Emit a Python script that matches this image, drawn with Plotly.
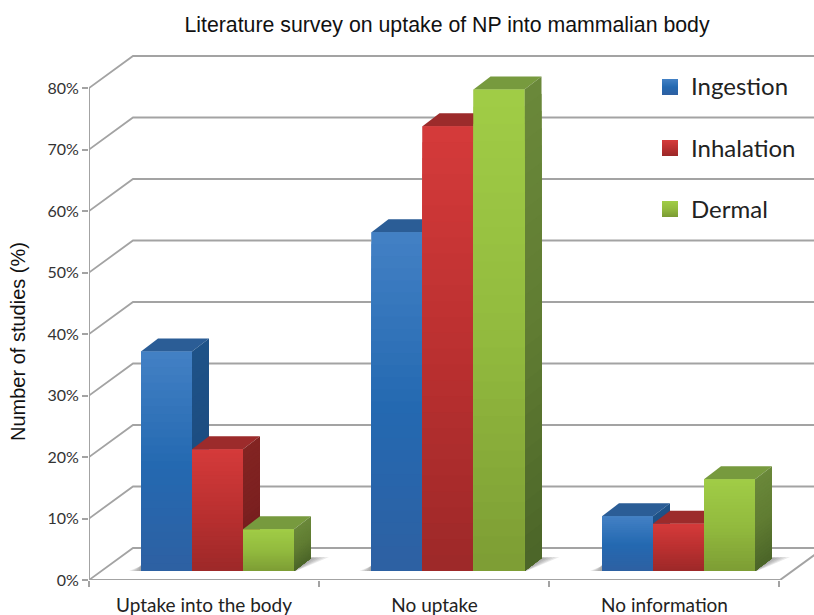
import plotly.graph_objects as go

# ---- data ----
categories = ["Uptake into the body", "No uptake", "No information"]
series_names = ["Ingestion", "Inhalation", "Dermal"]
ingestion = [35.7, 55.1, 8.9]
inhalation = [19.8, 72.3, 7.7]
dermal = [6.8, 78.3, 14.9]
y_ticks = [0, 10, 20, 30, 40, 50, 60, 70, 80]

values = [ingestion, inhalation, dermal]

# ---- styles: colours as (top, middle, bottom) of the front face ----
front = [
    [(66, 128, 196), (36, 105, 177), (46, 96, 162)],
    [(212, 58, 58), (186, 48, 48), (156, 40, 40)],
    [(160, 204, 70), (146, 186, 62), (124, 156, 52)],
]
side = [
    [(30, 82, 136), (28, 76, 128), (26, 64, 110)],
    [(130, 36, 34), (124, 32, 32), (104, 26, 26)],
    [(106, 136, 58), (96, 124, 50), (74, 100, 40)],
]
top = ["#2b5d96", "#9c2b2b", "#779a3e"]
GRID = "#a3a3a3"

W, H = 814, 615
ML, MT, MB = 89, 40, 35
PX_PER_CAT = 230.5
PX_PER_PCT = 6.15
CAT0_PX = 217.5


def to_x(px):
    return (px - CAT0_PX) / PX_PER_CAT


def to_y(py):
    return (H - MB - py) / PX_PER_PCT


BAR_W = 51 / PX_PER_CAT
FLOOR = 9 / PX_PER_PCT
DEPTH_X, DEPTH_Y = 17 / PX_PER_CAT, 13 / PX_PER_PCT
WALL_X, WALL_Y = 44 / PX_PER_CAT, 32 / PX_PER_PCT
X0 = to_x(ML)
X1 = to_x(W)
X_END = to_x(780)
N_SLICES = 28


def lerp(stops, t):
    if t < 0.5:
        a, b, u = stops[0], stops[1], t * 2
    else:
        a, b, u = stops[1], stops[2], (t - 0.5) * 2
    return "rgb(%d,%d,%d)" % tuple(round(a[k] + (b[k] - a[k]) * u) for k in range(3))


def poly(pts, color, layer="above", opacity=1):
    d = "M" + " L".join(f"{x:.5f},{y:.4f}" for x, y in pts) + " Z"
    return dict(type="path", path=d, xref="x", yref="y", fillcolor=color,
                line=dict(width=0), layer=layer, opacity=opacity)


shapes = []

# soft floor shadows
for g in range(len(categories)):
    x_l = g - 1.5 * BAR_W
    x_r = g + 1.5 * BAR_W
    for k in range(5):
        s = (5 - k) / 5
        shapes.append(poly([
            (x_l - 12 * s / PX_PER_CAT, FLOOR),
            (x_l, FLOOR + 7 * (1 - s * 0.3) / PX_PER_PCT),
            (x_r + DEPTH_X + 18 * s / PX_PER_CAT, FLOOR + 14 / PX_PER_PCT),
            (x_r + 2 * s / PX_PER_CAT, FLOOR),
        ], "#555555", layer="below", opacity=0.13))

# bar faces, drawn back to front, computed from the values
for g in range(len(categories)):
    for s in range(3):
        v = values[s][g]
        xa = g + (s - 1.5) * BAR_W
        xb = xa + BAR_W
        yb = FLOOR
        yt = FLOOR + v
        # top face
        shapes.append(poly([(xa, yt), (xa + DEPTH_X, yt + DEPTH_Y),
                            (xb + DEPTH_X, yt + DEPTH_Y), (xb, yt)], top[s]))
        # each slice runs down to the bar's foot, so no seams can appear
        for i in range(N_SLICES):
            t0 = i / N_SLICES
            y_hi = yt - v * t0
            shapes.append(poly([(xb, yb), (xb, y_hi),
                                (xb + DEPTH_X, y_hi + DEPTH_Y),
                                (xb + DEPTH_X, yb + DEPTH_Y)],
                               lerp(side[s], t0)))
        for i in range(N_SLICES):
            t0 = i / N_SLICES
            y_hi = yt - v * t0
            shapes.append(poly([(xa, yb), (xa, y_hi), (xb, y_hi), (xb, yb)],
                               lerp(front[s], t0)))

fig = go.Figure()

# back wall gridlines with their slanted wings
gx, gy = [], []
for t in y_ticks:
    gx += [X0, X0 + WALL_X, X1, None]
    gy += [t, t + WALL_Y, t + WALL_Y, None]
fig.add_trace(go.Scatter(x=gx, y=gy, mode="lines", showlegend=False, hoverinfo="skip",
                         line=dict(color=GRID, width=1.8)))

# left axis line (stops at the top tick) and front floor edge with its right wing
fig.add_trace(go.Scatter(x=[X0, X0], y=[0, y_ticks[-1]], mode="lines", showlegend=False,
                         hoverinfo="skip", cliponaxis=False,
                         line=dict(color=GRID, width=2)))
fig.add_trace(go.Scatter(
    x=[X0, X_END, X_END + WALL_X], y=[0, 0, WALL_Y], mode="lines", showlegend=False,
    hoverinfo="skip", cliponaxis=False, line=dict(color=GRID, width=2)))

# real bars (the shaded 3D faces are layered on them)
for s, name in enumerate(series_names):
    fig.add_trace(go.Bar(
        x=[g + (s - 1) * BAR_W for g in range(len(categories))],
        y=values[s], base=FLOOR, width=BAR_W, name=name, showlegend=False,
        marker=dict(color=lerp(front[s], 0.5), line=dict(width=0))))

# hand-placed legend, to keep the wide spacing and gradient swatches
plot_w = W - ML
plot_h = H - MT - MB
annotations = []
for s, (name, cy) in enumerate(zip(series_names, [87, 148, 209])):
    for i in range(16):
        y0 = cy - 8 + i
        shapes.append(dict(type="rect", xref="paper", yref="paper",
                           x0=(662 - ML) / plot_w, x1=(678 - ML) / plot_w,
                           y0=(H - MB - y0) / plot_h, y1=(H - MB - cy - 8) / plot_h,
                           fillcolor=lerp(front[s], i / 15), line=dict(width=0), layer="above"))
    annotations.append(dict(text=name, xref="paper", yref="paper", showarrow=False,
                            x=(689 - ML) / plot_w, y=(H - MB - cy + 1) / plot_h,
                            xanchor="left", yanchor="middle",
                            font=dict(family="Lato", size=24, color="#222222")))

# y axis title sits lower than the plot's centre, so it is placed by hand
annotations.append(dict(text="Number of studies (%)", xref="paper", yref="paper",
                        showarrow=False, textangle=-90,
                        x=(18 - ML) / plot_w, y=(H - MB - 342) / plot_h,
                        xanchor="center", yanchor="middle",
                        font=dict(family="Liberation Sans", size=20, color="#111111")))

fig.update_layout(
    width=W, height=H, autosize=False, barmode="overlay", showlegend=False,
    paper_bgcolor="white", plot_bgcolor="white",
    margin=dict(l=ML, r=0, t=MT, b=MB, autoexpand=False),
    title=dict(text="Literature survey on uptake of NP into mammalian body",
               x=447 / W, xanchor="center", y=1 - 25 / H, yanchor="middle",
               font=dict(family="Liberation Sans", size=21.3, color="#111111")),
    shapes=shapes, annotations=annotations,
    xaxis=dict(
        range=[X0, X1], showgrid=False, zeroline=False, showline=False,
        tickmode="array",
        tickvals=[to_x(204), to_x(434.5), to_x(664.5)], ticktext=categories,
        ticks="", ticklabelstandoff=12,
        tickfont=dict(family="Lato", size=19, color="#222222"),
        minor=dict(tickmode="array",
                   tickvals=[to_x(89), to_x(319), to_x(549), to_x(779)],
                   ticks="outside", ticklen=6, tickwidth=2, tickcolor=GRID, showgrid=False),
    ),
    yaxis=dict(
        range=[0, to_y(MT)], showgrid=False, zeroline=False,
        showline=False,
        tickmode="array", tickvals=y_ticks, ticktext=[f"{t}%" for t in y_ticks],
        ticks="outside", ticklen=6, tickwidth=2, tickcolor=GRID,
        tickfont=dict(family="Lato", size=16, color="#333333"),
    ),
)

fig.write_html("out.html", config=dict(displayModeBar=False),
               post_script="document.body.style.margin='0';")
